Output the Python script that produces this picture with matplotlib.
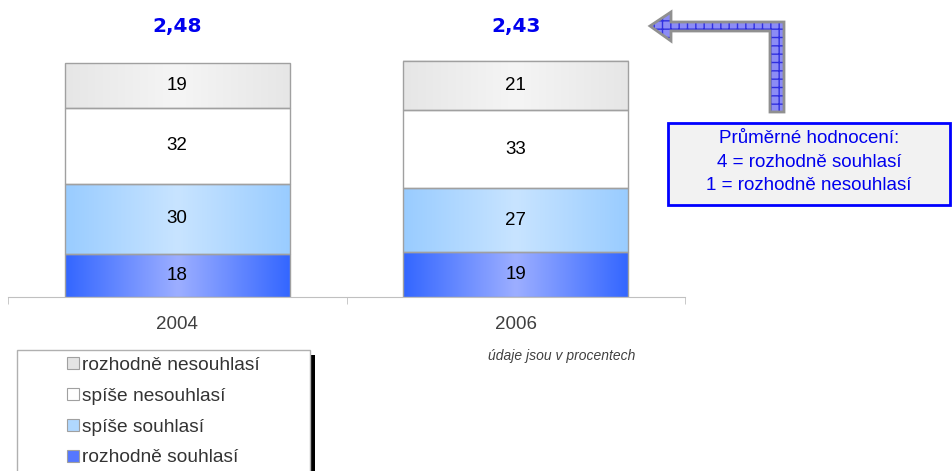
import numpy as np
import matplotlib
matplotlib.use('Agg')
import matplotlib.pyplot as plt
from matplotlib.colors import LinearSegmentedColormap
from matplotlib.patches import Rectangle, Polygon

plt.rcParams['font.family'] = ['Liberation Sans', 'DejaVu Sans']

years = ['2004', '2006']
averages = ['2,48', '2,43']
series = ['rozhodně souhlasí', 'spíše souhlasí', 'spíše nesouhlasí', 'rozhodně nesouhlasí']
values = {
    'rozhodně souhlasí': [18, 19],
    'spíše souhlasí': [30, 27],
    'spíše nesouhlasí': [32, 33],
    'rozhodně nesouhlasí': [19, 21],
}
# (edge colour, centre colour) of the horizontal gradient
grad = {
    'rozhodně souhlasí': ('#3366FF', '#9CAEFF'),
    'spíše souhlasí': ('#99CCFF', '#C8E4FF'),
    'spíše nesouhlasí': ('#FFFFFF', '#FFFFFF'),
    'rozhodně nesouhlasí': ('#E6E6E6', '#F5F5F5'),
}
legend_colors = {
    'rozhodně souhlasí': '#5577FF',
    'spíše souhlasí': '#B0D8FF',
    'spíše nesouhlasí': '#FFFFFF',
    'rozhodně nesouhlasí': '#E4E4E4',
}

W, H = 952, 471
fig = plt.figure(figsize=(W / 100, H / 100), dpi=100)


def fx(px):
    return px / W


def fy(py):
    return 1 - py / H


ax = fig.add_axes([fx(8), fy(297), fx(685) - fx(8), fy(40) - fy(297)])

x = np.arange(len(years))
bottom = np.zeros(len(years))
grid = np.abs(np.linspace(-1, 1, 256))[None, :]
for name in series:
    vals = np.array(values[name])
    bars = ax.bar(x, vals, 0.665, bottom=bottom, facecolor='none',
                  edgecolor='#A0A0A0', linewidth=1, zorder=3)
    cmap = LinearSegmentedColormap.from_list(name, [grad[name][1], grad[name][0]])
    for b, v in zip(bars, vals):
        x0, y0 = b.get_x(), b.get_y()
        ax.imshow(grid, cmap=cmap, aspect='auto', zorder=2,
                  extent=[x0, x0 + b.get_width(), y0, y0 + b.get_height()])
        ax.text(x0 + b.get_width() / 2, y0 + b.get_height() / 2, str(v),
                ha='center', va='center', fontsize=13.5, color='black', zorder=4)
    bottom = bottom + vals

for xi, a in zip(x, averages):
    ax.text(xi, 114.5, a, ha='center', va='center', fontsize=14.5, fontweight='bold',
            color='#0000EE', family='DejaVu Sans', clip_on=False)

ax.set_xlim(-0.5, 1.5)
ax.set_ylim(0, 108.7)
for s in ['top', 'right', 'left']:
    ax.spines[s].set_visible(False)
ax.spines['bottom'].set_color('#C0C0C0')
ax.set_yticks([])
ax.set_xticks(x)
ax.set_xticklabels(years, fontsize=13.5, color='#404040')
ax.tick_params(axis='x', which='major', length=0, pad=14)
ax.set_xticks([-0.5, 0.5, 1.5], minor=True)
ax.tick_params(axis='x', which='minor', length=5, color='#C0C0C0')

fig.text(fx(635), fy(356), 'údaje jsou v procentech', ha='right', va='center',
         fontsize=10, style='italic', color='#404040')

# legend box with shadow
fig.patches.append(Rectangle((fx(310), fy(475)), fx(5), fy(355) - fy(475),
                             transform=fig.transFigure, facecolor='black',
                             edgecolor='none', zorder=1))
fig.patches.append(Rectangle((fx(17), fy(480)), fx(293), fy(350) - fy(480),
                             transform=fig.transFigure, facecolor='white',
                             edgecolor='#B0B0B0', linewidth=1, zorder=2))
handles = [Rectangle((0, 0), 1, 1, facecolor=legend_colors[n], edgecolor='#A0A0A0', linewidth=0.8)
           for n in series[::-1]]
leg = fig.legend(handles, series[::-1], loc='upper left', bbox_to_anchor=(fx(67), fy(357)),
                 frameon=False, fontsize=13.8, handlelength=0.6, handleheight=0.6,
                 handletextpad=0.2, labelspacing=0.72, borderaxespad=0, borderpad=0)
leg.set_zorder(5)
for t in leg.get_texts():
    t.set_color('#333333')

# explanation box
fig.patches.append(Rectangle((fx(668), fy(205)), fx(950) - fx(668), fy(123) - fy(205),
                             transform=fig.transFigure, facecolor='#F2F2F2',
                             edgecolor='#0000FF', linewidth=2, zorder=2))
for i, line in enumerate(['Průměrné hodnocení:', '4 = rozhodně souhlasí', '1 = rozhodně nesouhlasí']):
    fig.text(fx(809), fy(139 + i * 23.5), line, ha='center', va='center', fontsize=13.5,
             color='#0000EE', zorder=3)

# L-shaped arrow
arrow_px = [(650, 26), (671, 12), (671, 22), (784, 22),
            (784, 112), (770, 112), (770, 31), (671, 31), (671, 41)]
arrow_pts = [(fx(px), fy(py)) for px, py in arrow_px]
fig.patches.append(Polygon(arrow_pts, closed=True, transform=fig.transFigure,
                           facecolor='#8C8CF5', edgecolor='#3030E0', hatch='++',
                           linewidth=0, zorder=2))
fig.patches.append(Polygon(arrow_pts, closed=True, transform=fig.transFigure,
                           facecolor='none', edgecolor='#909090', linewidth=2, zorder=3))

fig.savefig('out.png', dpi=100)
